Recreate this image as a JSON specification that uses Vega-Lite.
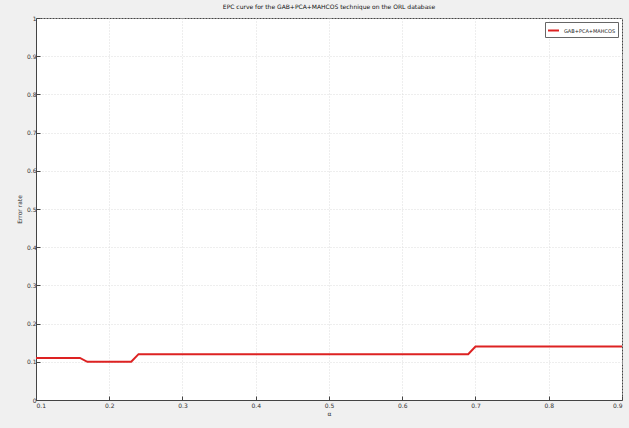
{
  "$schema": "https://vega.github.io/schema/vega-lite/v6.json",
  "autosize": {"type": "none"},
  "width": 586,
  "height": 382,
  "padding": {"left": 36, "top": 18, "right": 7, "bottom": 28},
  "background": "#f0f0f0",
  "title": {
    "text": "EPC curve for the GAB+PCA+MAHCOS technique on the ORL database",
    "fontSize": 6,
    "font": "DejaVu Sans",
    "fontWeight": "normal",
    "color": "#111111",
    "offset": 5
  },
  "config": {
    "view": {"fill": "white", "stroke": "#444444", "strokeWidth": 1},
    "axis": {
      "labelFont": "DejaVu Sans",
      "labelFontSize": 6,
      "labelColor": "#333333",
      "titleFont": "DejaVu Sans",
      "titleFontSize": 6,
      "titleFontWeight": "normal",
      "titleColor": "#333333",
      "gridColor": "#dddddd",
      "gridDash": [1, 2],
      "gridOpacity": 1,
      "domainColor": "#444444",
      "tickColor": "#444444",
      "tickSize": -4
    }
  },
  "data": {
    "values": [
      {"alpha": 0.10, "err": 0.11, "series": "GAB+PCA+MAHCOS"},
      {"alpha": 0.16, "err": 0.11, "series": "GAB+PCA+MAHCOS"},
      {"alpha": 0.17, "err": 0.10, "series": "GAB+PCA+MAHCOS"},
      {"alpha": 0.23, "err": 0.10, "series": "GAB+PCA+MAHCOS"},
      {"alpha": 0.24, "err": 0.12, "series": "GAB+PCA+MAHCOS"},
      {"alpha": 0.69, "err": 0.12, "series": "GAB+PCA+MAHCOS"},
      {"alpha": 0.70, "err": 0.14, "series": "GAB+PCA+MAHCOS"},
      {"alpha": 0.90, "err": 0.14, "series": "GAB+PCA+MAHCOS"}
    ]
  },
  "mark": {"type": "line", "strokeWidth": 2},
  "encoding": {
    "x": {
      "field": "alpha",
      "type": "quantitative",
      "scale": {"domain": [0.1, 0.9], "nice": false},
      "axis": {"title": "α", "values": [0.1, 0.2, 0.3, 0.4, 0.5, 0.6, 0.7, 0.8, 0.9], "format": ".1f", "titlePadding": 2, "labelPadding": 6}
    },
    "y": {
      "field": "err",
      "type": "quantitative",
      "scale": {"domain": [0, 1], "nice": false},
      "axis": {"title": "Error rate", "values": [0, 0.1, 0.2, 0.3, 0.4, 0.5, 0.6, 0.7, 0.8, 0.9, 1], "format": "~g", "titlePadding": 4, "labelPadding": 4}
    },
    "color": {
      "field": "series",
      "type": "nominal",
      "scale": {"range": ["#dd2222"]},
      "legend": {
        "title": null,
        "orient": "top-right",
        "offset": 4,
        "symbolType": "stroke",
        "symbolSize": 120,
        "symbolStrokeWidth": 2,
        "labelFont": "DejaVu Sans",
        "labelFontSize": 5,
        "labelColor": "#222222",
        "fillColor": "white",
        "strokeColor": "#666666",
        "padding": 2
      }
    }
  }
}
